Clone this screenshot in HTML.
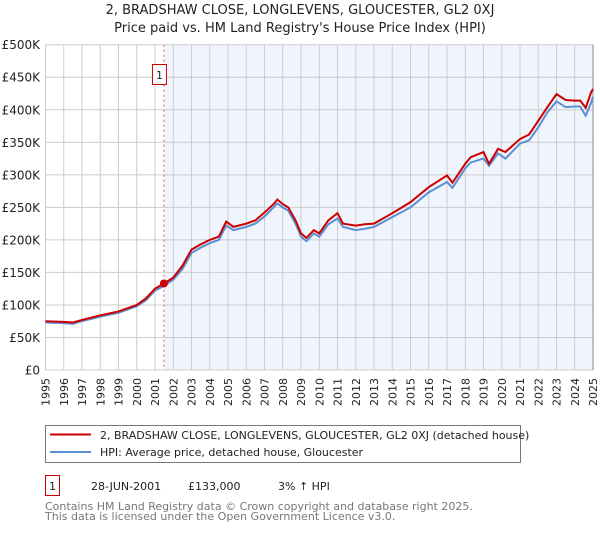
<!DOCTYPE html>
<html><head><meta charset="utf-8"><style>
body{margin:0;background:#fff;font-family:"DejaVu Sans","Liberation Sans",sans-serif;}
svg text{font-family:"DejaVu Sans","Liberation Sans",sans-serif;}
</style></head><body>
<svg id="chart" width="600" height="530" viewBox="0 0 600 530" xmlns="http://www.w3.org/2000/svg">
<text x="300" y="14" text-anchor="middle" font-size="13" fill="#222">2, BRADSHAW CLOSE, LONGLEVENS, GLOUCESTER, GL2 0XJ</text>
<text x="300" y="32" text-anchor="middle" font-size="13" fill="#222">Price paid vs. HM Land Registry's House Price Index (HPI)</text>
<g id="plot"></g>
<g>
<rect x="45.5" y="425.5" width="475" height="37" fill="#fff" stroke="#777"/>
<line x1="50" y1="434.5" x2="91" y2="434.5" stroke="#cc0000" stroke-width="2"/>
<text x="100" y="439" font-size="11" fill="#222">2, BRADSHAW CLOSE, LONGLEVENS, GLOUCESTER, GL2 0XJ (detached house)</text>
<line x1="50" y1="452" x2="91" y2="452" stroke="#5b8fd4" stroke-width="2"/>
<text x="100" y="456" font-size="11" fill="#222">HPI: Average price, detached house, Gloucester</text>
</g>
<g>
<rect x="45.5" y="475.5" width="14" height="20" fill="#fff" stroke="#cc0000"/>
<text x="52.5" y="490" text-anchor="middle" font-size="11" fill="#222">1</text>
<text x="91" y="490" font-size="11" fill="#222">28-JUN-2001</text>
<text x="188" y="490" font-size="11" fill="#222">£133,000</text>
<text x="278" y="490" font-size="11" fill="#222">3% ↑ HPI</text>
</g>
<text x="45" y="510" font-size="11" fill="#777">Contains HM Land Registry data © Crown copyright and database right 2025.</text>
<text x="45" y="520" font-size="11" fill="#777">This data is licensed under the Open Government Licence v3.0.</text>
</svg>
<script>
const yTicks=[0,50000,100000,150000,200000,250000,300000,350000,400000,450000,500000];
const yTickLabels=["£0","£50K","£100K","£150K","£200K","£250K","£300K","£350K","£400K","£450K","£500K"];
const xYears=[1995,1996,1997,1998,1999,2000,2001,2002,2003,2004,2005,2006,2007,2008,2009,2010,2011,2012,2013,2014,2015,2016,2017,2018,2019,2020,2021,2022,2023,2024,2025];
const dates=[1995,1996,1996.5,1997,1998,1999,2000,2000.5,2001,2001.49,2002,2002.5,2003,2003.5,2004,2004.5,2004.9,2005.3,2006,2006.5,2007,2007.5,2007.7,2008,2008.3,2008.7,2009,2009.3,2009.7,2010,2010.5,2011,2011.3,2012,2012.5,2013,2014,2015,2016,2017,2017.3,2018,2018.3,2019,2019.3,2019.8,2020.2,2021,2021.5,2022,2022.5,2023,2023.5,2024,2024.3,2024.6,2024.9,2025];
const propertyValues=[75,74,73,77,84,90,100,110,125,133,142,160,185,193,200,205,228,220,225,230,242,255,262,255,250,230,210,203,215,210,230,241,225,222,224,225,241,258,281,299,288,317,327,335,317,340,335,355,362,383,404,424,415,414,414,403,427,432];
const hpiValues=[73,72,71,75,82,88,98,107,122,129,139,155,180,188,195,200,222,215,220,225,236,250,256,250,245,225,205,198,210,205,224,233,220,215,217,220,235,250,273,289,280,310,319,325,314,333,325,348,353,373,396,413,404,405,405,391,411,420];
const saleDate=2001.49, salePrice=133000;
const X0=45.5,X1=593,Y0=370,YT=44.7;
const xs=d=>X0+(d-1995)/30*(X1-X0);
const ys=v=>Y0-v/500000*(Y0-YT);
const NS="http://www.w3.org/2000/svg";
const g=document.getElementById('plot');
function mk(t,a){const e=document.createElementNS(NS,t);for(const k in a)e.setAttribute(k,a[k]);g.appendChild(e);return e;}
const shade=mk('rect',{x:xs(saleDate),y:YT,width:X1-xs(saleDate),height:Y0-YT,fill:'#f0f4fc'});


xYears.forEach(yr=>{
 const l=mk('line',{x1:xs(yr),x2:xs(yr),y1:YT,y2:Y0,stroke:'#cccccc','stroke-width':1});
 
 
 const t=mk('text',{x:0,y:0,'font-size':11,fill:'#222','text-anchor':'end',transform:`translate(${xs(yr)+4},378) rotate(-90)`});
 t.textContent=yr;
 
 
});
yTicks.forEach((v,i)=>{
 const l=mk('line',{x1:X0,x2:X1,y1:ys(v),y2:ys(v),stroke:'#cccccc','stroke-width':1});
 
 
 const t=mk('text',{x:40,y:ys(v)+4.5,'font-size':12,fill:'#222','text-anchor':'end'});
 t.textContent=yTickLabels[i];
 
 
});
const ax=mk('line',{x1:X1,x2:X1,y1:YT,y2:Y0,stroke:'#888','stroke-width':1});


const vl=mk('line',{x1:xs(saleDate),x2:xs(saleDate),y1:YT,y2:Y0,stroke:'#ee5555','stroke-width':1,'stroke-dasharray':'2,3'});


const hp=mk('polyline',{points:dates.map((d,i)=>xs(d)+','+ys(hpiValues[i]*1000)).join(' '),fill:'none',stroke:'#5b8fd4','stroke-width':2});


const pp=mk('polyline',{points:dates.map((d,i)=>xs(d)+','+ys(propertyValues[i]*1000)).join(' '),fill:'none',stroke:'#cc0000','stroke-width':2});


const dot=mk('circle',{cx:xs(saleDate),cy:ys(salePrice),r:4,fill:'#cc0000'});


const mb=mk('rect',{x:xs(saleDate)-11.5,y:64.5,width:14,height:20,fill:'#fff',stroke:'#cc0000'});


const mt=mk('text',{x:xs(saleDate)-4.5,y:79,'font-size':11,fill:'#222','text-anchor':'middle'});
mt.textContent='1';


</script>
</body></html>
